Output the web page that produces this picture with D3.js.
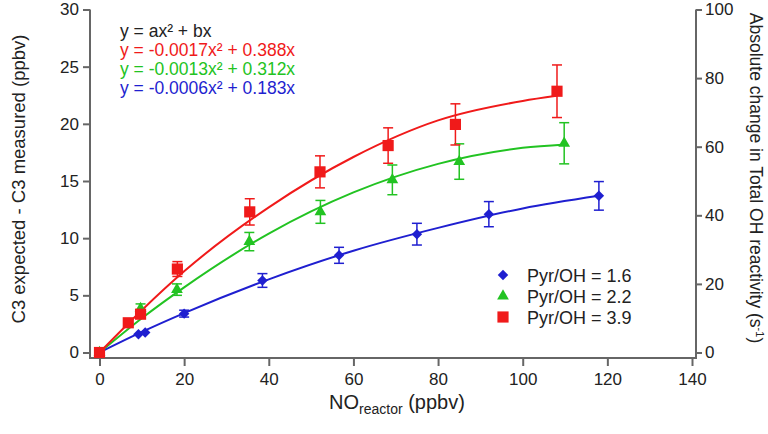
<!DOCTYPE html>
<html>
<head>
<meta charset="utf-8">
<script src="https://cdn.jsdelivr.net/npm/d3@7"></script>
<style>
  body { margin: 0; background: #fff; }
  text { font-family: "Liberation Sans", Arial, sans-serif; fill: #222; }
  .axis path, .axis line { stroke: #666; stroke-width: 2; }
  .axis text { font-size: 17px; fill: #222; }
</style>
</head>
<body>
<div id="chart"></div>
<script>
// measured points: NO (ppbv), C3 difference (ppbv), error
var blueX = [0, 9.2, 10.8, 20, 38.5, 56.6, 75, 92, 118];
var blueY = [0, 1.6, 1.75, 3.4, 6.3, 8.5, 10.35, 12.1, 13.7];
var blueErr = [0, 0, 0, 0.3, 0.6, 0.7, 0.95, 1.1, 1.25];

var greenX = [0, 9.7, 18.3, 35.4, 52.2, 69.2, 85, 109.8];
var greenY = [0, 3.85, 5.5, 9.7, 12.3, 15.1, 16.7, 18.3];
var greenErr = [0, 0.4, 0.5, 0.8, 1.0, 1.3, 1.55, 1.8];

var redX = [0, 6.8, 9.7, 18.4, 35.5, 52.1, 68.2, 84.1, 108.1];
var redY = [0, 2.6, 3.35, 7.3, 12.3, 15.8, 18.1, 19.95, 22.85];
var redErr = [0, 0, 0, 0.65, 1.15, 1.4, 1.55, 1.8, 2.3];

// fitted curves
var blueFitX = [0, 10, 20, 40, 60, 80, 100, 118];
var blueFitY = [0, 1.8, 3.45, 6.4, 8.9, 10.9, 12.6, 13.7];
var greenFitX = [0, 10, 20, 40, 60, 80, 100, 110];
var greenFitY = [0, 3.0, 5.7, 10.4, 14.0, 16.5, 17.9, 18.2];
var redFitX = [0, 10, 20, 40, 60, 80, 100, 108];
var redFitY = [0, 3.7, 7.1, 12.7, 17.1, 20.3, 22.0, 22.45];

var leftTicks = [0, 5, 10, 15, 20, 25, 30];
var rightTicks = [0, 20, 40, 60, 80, 100];
var xTicks = [0, 20, 40, 60, 80, 100, 120, 140];

var equations = ["y = ax\u00b2 + bx", "y = -0.0017x\u00b2 + 0.388x", "y = -0.0013x\u00b2 + 0.312x", "y = -0.0006x\u00b2 + 0.183x"];
var legendLabels = ["Pyr/OH = 1.6", "Pyr/OH = 2.2", "Pyr/OH = 3.9"];

var cBlue = "#1f1fd0", cGreen = "#22c322", cRed = "#f01a1a";

var width = 768, height = 434;
var svg = d3.select("#chart").append("svg")
    .attr("width", width)
    .attr("height", height);

var xScale = d3.scaleLinear().domain([0, 140]).range([99.5, 692]);
var yScale = d3.scaleLinear().domain([0, 30]).range([352.5, 9.5]);
var yRight = d3.scaleLinear().domain([0, 100]).range([352.5, 9.5]);

// axes
var xAxis = d3.axisBottom(xScale).tickValues(xTicks).tickSize(8).tickPadding(7).tickSizeOuter(0);
var gx = svg.append("g").attr("class", "axis")
    .attr("transform", "translate(0,358)")
    .call(xAxis);
gx.select(".domain").attr("d", "M89,0H697");

var yAxis = d3.axisLeft(yScale).tickValues(leftTicks).tickSize(7).tickPadding(4).tickSizeOuter(0);
var gy = svg.append("g").attr("class", "axis")
    .attr("transform", "translate(90,0)")
    .call(yAxis);
gy.select(".domain").attr("d", "M0,9.5V359");

var yAxisR = d3.axisRight(yRight).tickValues(rightTicks).tickSize(6).tickPadding(3).tickSizeOuter(0);
var gr = svg.append("g").attr("class", "axis")
    .attr("transform", "translate(696,0)")
    .call(yAxisR);
gr.select(".domain").attr("d", "M0,9.5V359");

// axis titles
svg.append("text")
    .attr("transform", "translate(25,179) rotate(-90)")
    .attr("text-anchor", "middle")
    .style("font-size", "18.5px")
    .text("C3 expected - C3 measured (ppbv)");

var rt = svg.append("text")
    .attr("transform", "translate(750,178) rotate(90)")
    .attr("text-anchor", "middle")
    .style("font-size", "17.5px");
rt.append("tspan").text("Absolute change in Total OH reactivity (s");
rt.append("tspan").attr("dy", -6).style("font-size", "11px").text("-1");
rt.append("tspan").attr("dy", 6).text(")");

var xt = svg.append("text")
    .attr("x", 397).attr("y", 409)
    .attr("text-anchor", "middle")
    .style("font-size", "20px");
xt.append("tspan").text("NO");
xt.append("tspan").attr("dy", 5).style("font-size", "14px").text("reactor");
xt.append("tspan").attr("dy", -5).text(" (ppbv)");

// fit curves
var line = d3.line()
    .curve(d3.curveMonotoneX)
    .x(function(d) { return xScale(d[0]); })
    .y(function(d) { return yScale(d[1]); });

function drawFit(xs, ys, color) {
  svg.append("path")
      .attr("d", line(d3.zip(xs, ys)))
      .attr("fill", "none")
      .attr("stroke", color)
      .attr("stroke-width", 2);
}
drawFit(blueFitX, blueFitY, cBlue);
drawFit(greenFitX, greenFitY, cGreen);
drawFit(redFitX, redFitY, cRed);

// error bars
function drawErr(xs, ys, es, color) {
  var g = svg.append("g").attr("stroke", color).attr("stroke-width", 1.5);
  xs.forEach(function(x, i) {
    if (!es[i]) return;
    var px = xScale(x), top = yScale(ys[i] + es[i]), bot = yScale(ys[i] - es[i]);
    g.append("line").attr("x1", px).attr("x2", px).attr("y1", top).attr("y2", bot);
    g.append("line").attr("x1", px - 5).attr("x2", px + 5).attr("y1", top).attr("y2", top);
    g.append("line").attr("x1", px - 5).attr("x2", px + 5).attr("y1", bot).attr("y2", bot);
  });
}
drawErr(blueX, blueY, blueErr, cBlue);
drawErr(greenX, greenY, greenErr, cGreen);
drawErr(redX, redY, redErr, cRed);

// markers
var diamond = d3.symbol().type(d3.symbolDiamond2).size(70);
var triangle = d3.symbol().type(d3.symbolTriangle).size(60);
var square = d3.symbol().type(d3.symbolSquare).size(125);

function drawMarks(xs, ys, sym, color) {
  svg.append("g").selectAll("path")
      .data(d3.zip(xs, ys))
      .enter().append("path")
      .attr("d", sym)
      .attr("fill", color)
      .attr("transform", function(d) { return "translate(" + xScale(d[0]) + "," + yScale(d[1]) + ")"; });
}
drawMarks(blueX, blueY, diamond, cBlue);
drawMarks(greenX, greenY, triangle, cGreen);
drawMarks(redX, redY, square, cRed);

// equations
var eqColors = ["#222", cRed, cGreen, cBlue];
svg.append("g").selectAll("text")
    .data(equations)
    .enter().append("text")
    .attr("x", 120)
    .attr("y", function(d, i) { return 37 + i * 19; })
    .style("font-size", "17.5px")
    .style("fill", function(d, i) { return eqColors[i]; })
    .text(function(d) { return d; });

// legend
var legSyms = [diamond, triangle, square];
var legColors = [cBlue, cGreen, cRed];
var leg = svg.append("g").selectAll("g")
    .data(legendLabels)
    .enter().append("g")
    .attr("transform", function(d, i) { return "translate(503," + (275 + i * 21) + ")"; });
leg.append("path")
    .attr("d", function(d, i) { return legSyms[i](); })
    .attr("fill", function(d, i) { return legColors[i]; });
leg.append("text")
    .attr("x", 24).attr("y", 6.5)
    .style("font-size", "18px")
    .text(function(d) { return d; });
</script>
</body>
</html>
